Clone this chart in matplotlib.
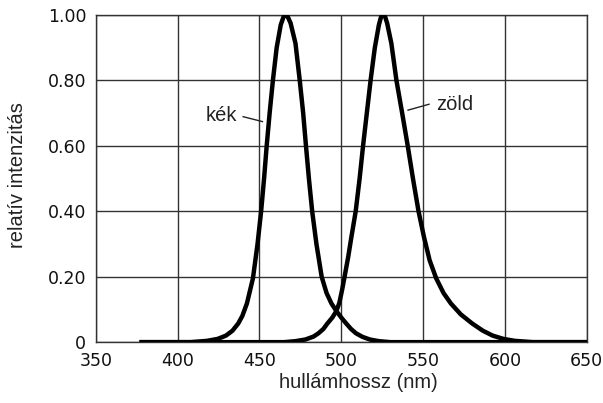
import numpy as np
import matplotlib.pyplot as plt

# wavelength (nm) and relative intensity
blue_nm = [378, 408, 418, 424.5, 429.5, 433.5, 437, 439.5, 442.3, 446, 448.8, 451.0, 452.8,
           454.4, 456.2, 458.2, 460.5, 463, 464.7, 466, 467.3, 469, 472, 474.6, 476.7,
           478.4, 480.2, 482.2, 484.8, 488, 491, 494, 497, 500, 503, 506, 509, 513,
           517.5, 523, 530, 650]
blue_int = [0, 0, 0.004, 0.01, 0.02, 0.035, 0.057, 0.08, 0.118, 0.195, 0.3, 0.4, 0.5,
            0.6, 0.7, 0.8, 0.9, 0.97, 0.994, 1.0, 0.994, 0.975, 0.913, 0.8, 0.7,
            0.6, 0.5, 0.4, 0.3, 0.2, 0.15, 0.118, 0.095, 0.075, 0.057, 0.04, 0.027, 0.016,
            0.008, 0.003, 0, 0]

green_nm = [378, 465, 472, 478, 483, 486, 489, 491.5, 494.5, 497, 498.8, 500.5, 502, 504.2,
            506.2, 508.8, 511.2, 513.3, 515.6, 517.9, 520.5, 523, 524.3, 525.5, 526.8, 528,
            530.6, 533.7, 537.2, 540.6, 543.8, 547.2, 550.5, 554, 558, 562.5, 567, 573,
            580, 586.5, 592.5, 599, 606, 617, 650]
green_int = [0, 0, 0.003, 0.008, 0.017, 0.027, 0.04, 0.057, 0.075, 0.095, 0.12, 0.16, 0.2, 0.26,
             0.322, 0.4, 0.5, 0.6, 0.7, 0.8, 0.9, 0.97, 0.994, 1.0, 0.994, 0.975,
             0.913, 0.8, 0.7, 0.6, 0.5, 0.4, 0.322, 0.25, 0.195, 0.15, 0.118, 0.085,
             0.057, 0.035, 0.02, 0.01, 0.004, 0, 0]

xticks = [350, 400, 450, 500, 550, 600, 650]
yticks = [0, 0.2, 0.4, 0.6, 0.8, 1.0]
ytick_labels = ["0", "0.20", "0.40", "0.60", "0.80", "1.00"]

fig = plt.figure(figsize=(6.03, 4.03), dpi=100)
ax = fig.add_axes([0.159, 0.151, 0.814, 0.812])

ax.plot(blue_nm, blue_int, color="black", lw=3.2, solid_joinstyle="round", zorder=3)
ax.plot(green_nm, green_int, color="black", lw=3.2, solid_joinstyle="round", zorder=3)

ax.set_xlim(350, 650)
ax.set_ylim(0, 1.0)
ax.set_xticks(xticks)
ax.set_yticks(yticks)
ax.set_yticklabels(ytick_labels)
ax.tick_params(length=0, labelsize=12.5, pad=7, labelcolor="#111111")
ax.grid(True, color="#333333", lw=1.0)
for s in ax.spines.values():
    s.set_color("#333333")
    s.set_linewidth(1.0)

fig.text(0.595, 0.052, "hullámhossz (nm)", family="Liberation Sans", fontsize=14.5,
         color="#222222", ha="center", va="center")
fig.text(0.029, 0.566, "relatív intenzitás", family="Liberation Sans", fontsize=14.5,
         color="#222222", ha="center", va="center", rotation=90)

# curve labels with short leader lines
ax.text(436.5, 0.694, "kék", family="Liberation Sans", fontsize=14.5, color="#222222",
        ha="right", va="center")
ax.plot([440, 451.8], [0.689, 0.674], color="#222222", lw=1.0)
ax.text(557.7, 0.727, "zöld", family="Liberation Sans", fontsize=14.5, color="#222222",
        ha="left", va="center")
ax.plot([540.8, 553.6], [0.709, 0.727], color="#222222", lw=1.0)

fig.savefig("out.png", dpi=100)
